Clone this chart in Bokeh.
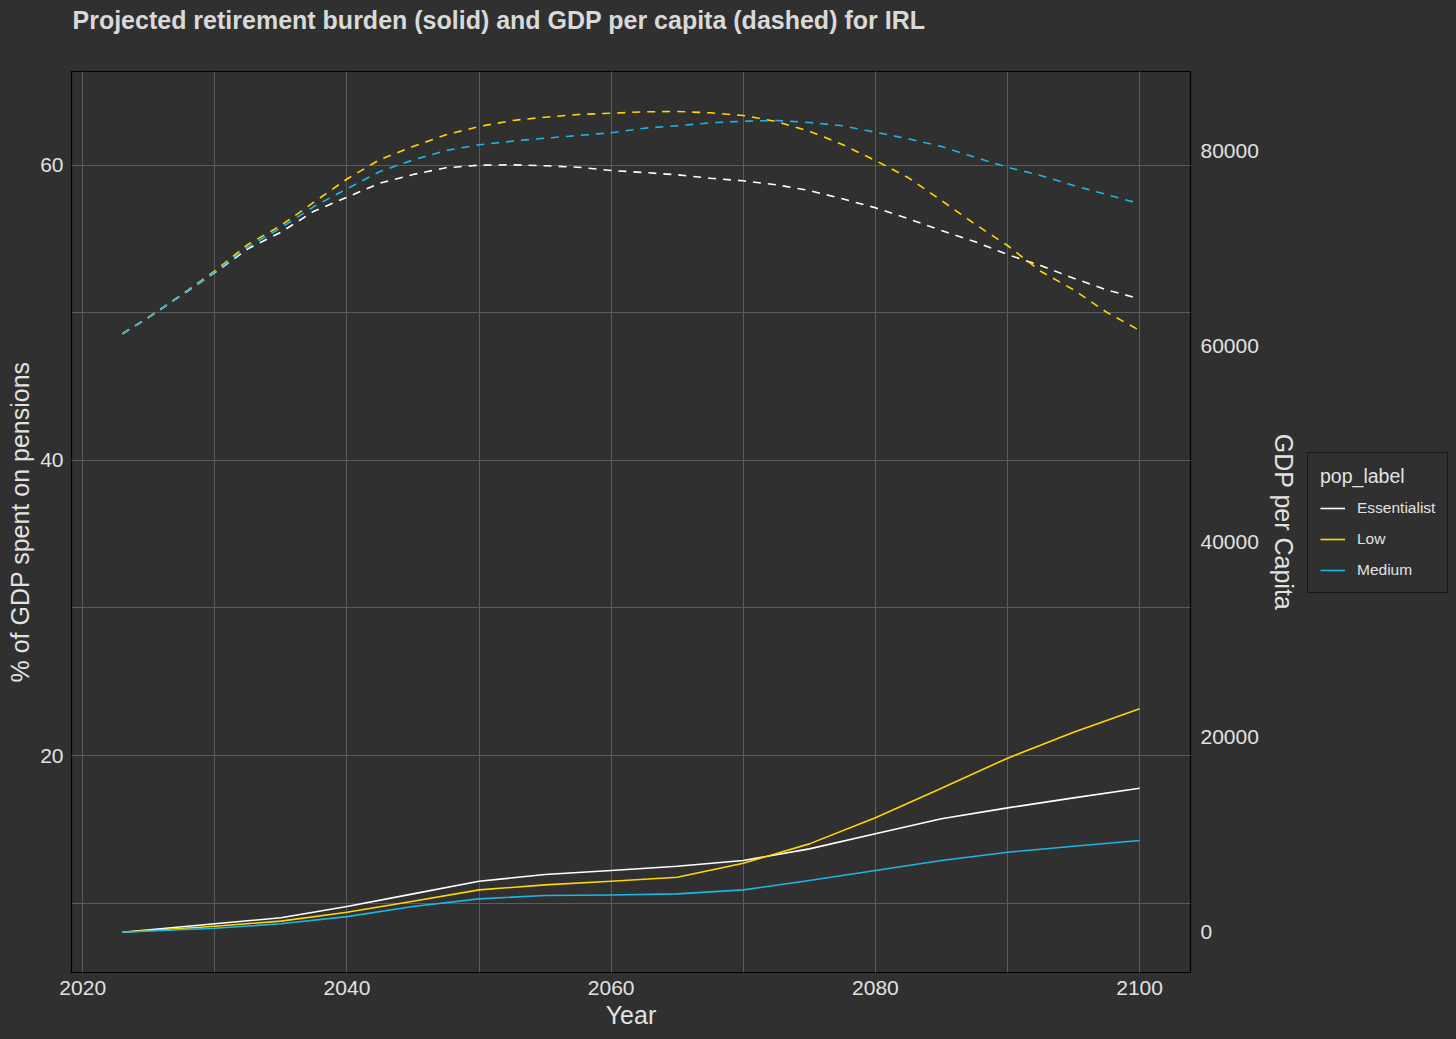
from bokeh.plotting import figure
from bokeh.layouts import column, row
from bokeh.models import Range1d, LinearAxis, SingleIntervalTicker, Legend, LegendItem, Label
from bokeh.embed import file_html
from bokeh.resources import INLINE

# ---- data ----
pop_labels = ["Essentialist", "Low", "Medium"]

# retirement burden, % of GDP (solid lines)
years_pct = [2023, 2030, 2035, 2040, 2045, 2050, 2055, 2060, 2065, 2070, 2075, 2080, 2085, 2090, 2095, 2100]
pct_essentialist = [8.02, 8.59, 9.00, 9.76, 10.62, 11.48, 11.93, 12.20, 12.49, 12.88, 13.67, 14.69, 15.71, 16.45, 17.13, 17.78]
pct_low = [8.02, 8.43, 8.77, 9.38, 10.12, 10.89, 11.23, 11.48, 11.75, 12.70, 14.01, 15.78, 17.78, 19.82, 21.58, 23.17]
pct_medium = [8.02, 8.29, 8.59, 9.08, 9.76, 10.28, 10.51, 10.54, 10.62, 10.89, 11.53, 12.20, 12.88, 13.44, 13.85, 14.24]

# GDP per capita (dashed lines)
years_gdp = [2023, 2025, 2027.5, 2030, 2032.5, 2035, 2037.5, 2040, 2042.5, 2045, 2047.5, 2050,
             2052.5, 2055, 2057.5, 2060, 2062.5, 2065, 2067.5, 2070, 2072.5, 2075, 2077.5, 2080,
             2082.5, 2085, 2087.5, 2090, 2092.5, 2095, 2097.5, 2100]
gdp_essentialist = [61302, 63005, 65282, 67590, 70021, 71723, 73877, 75313, 76749, 77641, 78328, 78595,
                    78636, 78533, 78390, 78051, 77846, 77610, 77262, 76995, 76585, 76000, 75149, 74226,
                    73097, 71897, 70769, 69436, 68308, 67005, 65815, 64892]
gdp_low = [61302, 63005, 65333, 67744, 70462, 72410, 74800, 77179, 79179, 80513, 81713, 82564,
           83179, 83518, 83795, 83928, 84072, 84103, 83969, 83692, 83077, 82082, 80718, 79077,
           77302, 74974, 72585, 70359, 67723, 65815, 63518, 61641]
gdp_medium = [61302, 63005, 65302, 67641, 70205, 72174, 74359, 76174, 77949, 79128, 80103, 80687,
              81056, 81364, 81641, 81918, 82390, 82636, 82943, 83108, 83179, 82974, 82636, 81979,
              81302, 80513, 79415, 78390, 77538, 76513, 75590, 74636]

title_text = "Projected retirement burden (solid) and GDP per capita (dashed) for IRL"

colors = {"Essentialist": "#FFFFFF", "Low": "#FFD700", "Medium": "#1CB6E6"}

BG = "#303030"
TXT = "#e2e2e2"
GRID = "#5c5c5c"
FONT = "Liberation Sans"
FW, FH = 1119, 901
LEFT, RIGHT, BOTTOM, TOP = 71, 110, 67, 71
MAIN_W = LEFT + FW + RIGHT
MAIN_H = FH + BOTTOM
TOTAL_W = 1456

# ---------------- title strip ----------------
pt = figure(width=TOTAL_W, height=TOP, x_range=Range1d(0, 1), y_range=Range1d(0, 1),
            output_backend="svg", toolbar_location=None,
            x_axis_location=None, y_axis_location=None,
            background_fill_color=BG, border_fill_color=BG, outline_line_color=None,
            min_border=0)
pt.grid.visible = False
pt.add_layout(Label(x=72, y=TOP - 19, x_units="screen", y_units="screen", text=title_text,
                    text_font=FONT, text_font_size="25px", text_font_style="bold",
                    text_color="#d9d9d9", text_baseline="alphabetic", text_align="left"))

# ---------------- main plot ----------------
p = figure(frame_width=FW, frame_height=FH,
           x_range=Range1d(2019.15, 2103.85), y_range=Range1d(5.29, 66.37),
           output_backend="svg", toolbar_location=None,
           background_fill_color=BG, border_fill_color=BG,
           min_border_left=LEFT, min_border_right=RIGHT, min_border_top=0, min_border_bottom=BOTTOM,
           outline_line_color="black", outline_line_width=1.2)
p.extra_y_ranges = {"gdp": Range1d(-4205, 88205)}

def style_axis(ax):
    ax.major_tick_out = 0
    ax.major_tick_in = 0
    ax.minor_tick_out = 0
    ax.minor_tick_in = 0
    ax.axis_line_color = None
    ax.major_label_text_font = FONT
    ax.major_label_text_font_size = "21px"
    ax.major_label_text_color = TXT
    ax.axis_label_text_font = FONT
    ax.axis_label_text_font_size = "25px"
    ax.axis_label_text_font_style = "normal"
    ax.axis_label_text_color = TXT
    ax.major_label_standoff = 8
    ax.axis_label_standoff = 3

p.xaxis.ticker = SingleIntervalTicker(interval=20, num_minor_ticks=2)
p.yaxis.ticker = SingleIntervalTicker(interval=20, num_minor_ticks=2)
p.xaxis.axis_label = "Year"
p.yaxis.axis_label = "% of GDP spent on pensions"
style_axis(p.xaxis[0])
style_axis(p.yaxis[0])

for g in (p.xgrid[0], p.ygrid[0]):
    g.grid_line_color = GRID
    g.grid_line_width = 1
    g.minor_grid_line_color = GRID
    g.minor_grid_line_width = 1

right_ax = LinearAxis(y_range_name="gdp", ticker=SingleIntervalTicker(interval=20000),
                      axis_label="GDP per Capita")
style_axis(right_ax)
right_ax.major_label_standoff = 10
right_ax.axis_label_standoff = 8
p.add_layout(right_ax, "right")

pct = {"Essentialist": pct_essentialist, "Low": pct_low, "Medium": pct_medium}
gdp = {"Essentialist": gdp_essentialist, "Low": gdp_low, "Medium": gdp_medium}

for lab in pop_labels:
    p.line(years_gdp, gdp[lab], y_range_name="gdp", line_color=colors[lab],
           line_width=1.6, line_dash="8 7", line_join="round")
for lab in pop_labels:
    p.line(years_pct, pct[lab], line_color=colors[lab], line_width=1.6, line_join="round")

# ---------------- legend strip ----------------
pl = figure(width=TOTAL_W - MAIN_W, height=MAIN_H, x_range=Range1d(0, 1), y_range=Range1d(0, 1),
            output_backend="svg", toolbar_location=None,
            x_axis_location=None, y_axis_location=None,
            background_fill_color=BG, border_fill_color=BG, outline_line_color=None,
            min_border=0)
pl.grid.visible = False
keys = {}
for lab in pop_labels:
    # same series, outside this strip's ranges: only its legend key is seen
    keys[lab] = pl.line(years_pct, pct[lab], line_color=colors[lab], line_width=1.6)

legend = Legend(items=[LegendItem(label=lab, renderers=[keys[lab]]) for lab in pop_labels],
                title="pop_label", location=(1307 - MAIN_W, 379))
legend.title_text_font = FONT
legend.title_text_font_size = "19.5px"
legend.title_text_font_style = "normal"
legend.title_text_color = TXT
legend.title_standoff = 10
legend.label_text_font = FONT
legend.label_text_font_size = "15.5px"
legend.label_text_color = TXT
legend.glyph_width = 25
legend.glyph_height = 20
legend.label_height = 20
legend.spacing = 11
legend.padding = 12
legend.label_standoff = 12
legend.margin = 0
legend.border_line_color = "black"
legend.border_line_width = 1.5
legend.background_fill_color = BG
legend.background_fill_alpha = 1
pl.add_layout(legend, "center")

layout = column(pt, row(p, pl, spacing=0), spacing=0)

html = file_html(layout, INLINE)
html = html.replace("</head>", "<style>html, body { background-color: #303030 !important; }</style></head>", 1)
open("out.html", "w").write(html)
